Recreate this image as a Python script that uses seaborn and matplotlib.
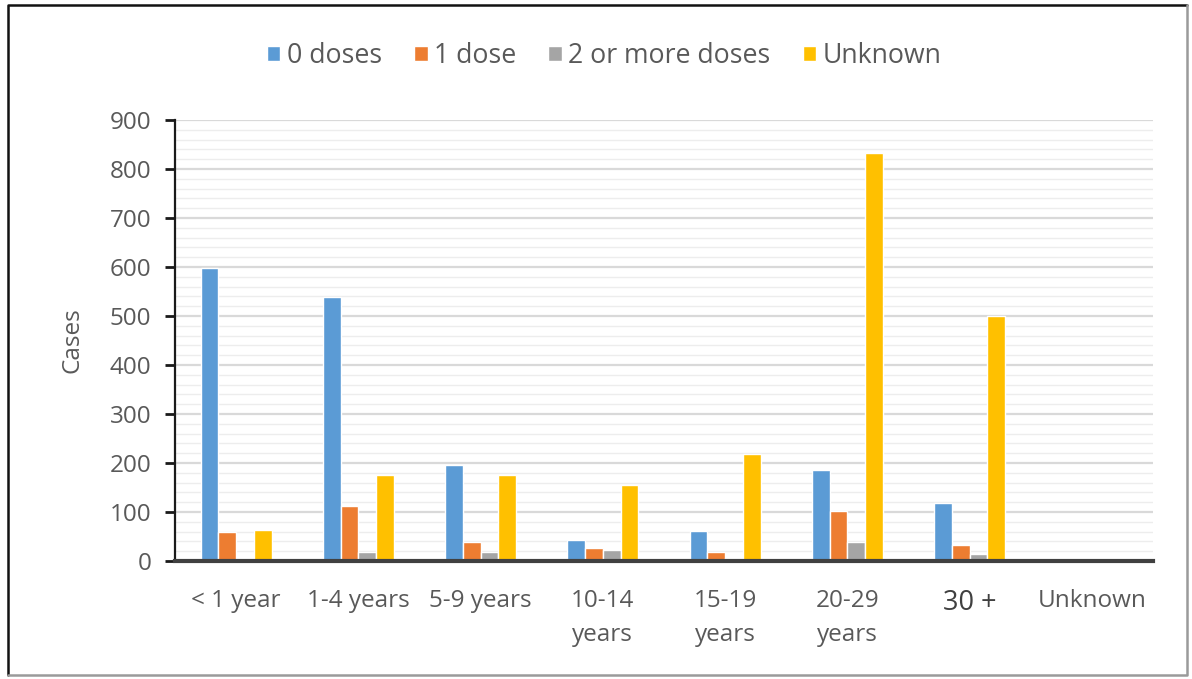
import matplotlib
matplotlib.use("Agg")
import matplotlib.pyplot as plt
import seaborn as sns
import pandas as pd
from matplotlib.lines import Line2D
from matplotlib.ticker import MultipleLocator

age_groups = ["< 1 year", "1-4 years", "5-9 years", "10-14\nyears", "15-19\nyears",
              "20-29\nyears", "30 +", "Unknown"]
dose_groups = ["0 doses", "1 dose", "2 or more doses", "Unknown"]

zero_doses = [597, 538, 196, 43, 62, 186, 118, 0]
one_dose = [60, 112, 39, 27, 18, 101, 33, 0]
two_plus_doses = [0, 19, 19, 22, 6, 39, 14, 0]
unknown_doses = [63, 175, 175, 155, 218, 833, 500, 0]

colors = ["#5B9BD5", "#ED7D31", "#A5A5A5", "#FFC000"]
text_color = "#595959"

rows = []
for dose, vals in zip(dose_groups, [zero_doses, one_dose, two_plus_doses, unknown_doses]):
    for age, v in zip(age_groups, vals):
        rows.append({"age": age, "dose": dose, "cases": v})
df = pd.DataFrame(rows)

sns.set_theme(style="white")
plt.rcParams["font.family"] = ["Open Sans", "DejaVu Sans"]

fig = plt.figure(figsize=(11.92, 6.79), dpi=100)
ax = fig.add_axes([0.1468, 0.1738, 0.8205, 0.6495])

sns.barplot(data=df, x="age", y="cases", hue="dose", order=age_groups,
            hue_order=dose_groups, palette=colors, width=0.58, gap=0,
            saturation=1, ax=ax, legend=True)

ax.set_ylim(0, 900)
ax.set_xlim(-0.5, len(age_groups) - 0.5)
ax.yaxis.set_major_locator(MultipleLocator(100))
ax.yaxis.set_minor_locator(MultipleLocator(20))
ax.grid(axis="y", which="major", color="#D9D9D9", linewidth=1.6, zorder=0)
ax.grid(axis="y", which="minor", color="#EDEDED", linewidth=1.0, zorder=0)
ax.set_axisbelow(True)

for s in ["top", "right"]:
    ax.spines[s].set_visible(False)
ax.spines["left"].set_color("#1a1a1a")
ax.spines["left"].set_linewidth(1.6)
ax.spines["bottom"].set_color("#404040")
ax.spines["bottom"].set_linewidth(3)

ax.tick_params(axis="y", which="major", left=True, length=7, width=2, color="#1a1a1a",
               labelsize=17.5, labelcolor=text_color, pad=10)
ax.tick_params(axis="y", which="minor", left=False)
ax.tick_params(axis="x", bottom=False, labelsize=17.5, labelcolor=text_color, pad=14)
for lbl in ax.get_xticklabels():
    if lbl.get_text() == "30 +":
        lbl.set_fontsize(19.5)
        lbl.set_color("#404040")
    lbl.set_linespacing(1.55)

ax.set_xlabel("")
ax.set_ylabel("Cases", fontsize=17.5, color=text_color, labelpad=18)

handles, labels = ax.get_legend_handles_labels()
ax.get_legend().remove()
fig.legend(handles, labels, loc="center", bbox_to_anchor=(0.507, 0.918), ncol=4,
           frameon=False, fontsize=19.2, labelcolor=text_color,
           handlelength=0.5, handleheight=0.5, handletextpad=0.25,
           columnspacing=1.2)

# outer frame: dark on the top and left, grey on the right and bottom
fig.add_artist(Line2D([0.007, 0.007, 0.996], [0.006, 0.992, 0.992],
                      transform=fig.transFigure, color="#111111", linewidth=1.8))
fig.add_artist(Line2D([0.007, 0.996, 0.996], [0.006, 0.006, 0.992],
                      transform=fig.transFigure, color="#9a9a9a", linewidth=1.8))

fig.savefig("out.png", dpi=100)
